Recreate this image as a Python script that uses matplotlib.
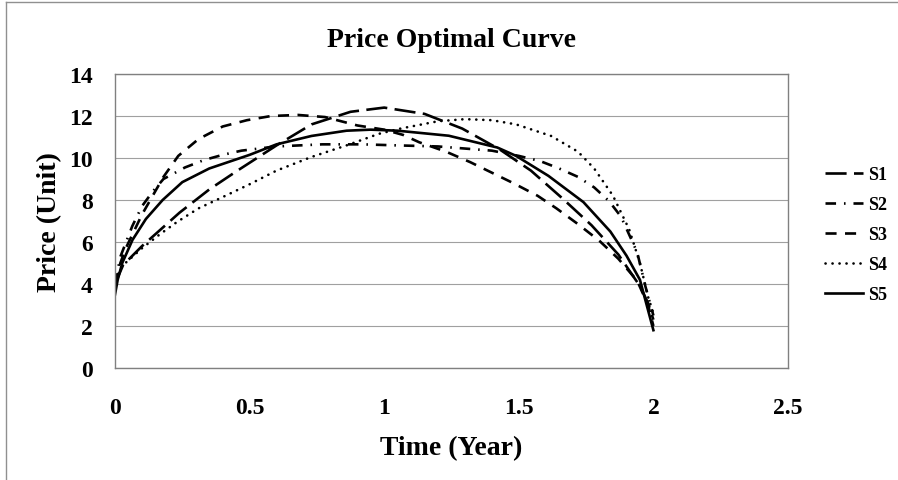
import matplotlib
matplotlib.use("Agg")
import matplotlib.pyplot as plt
from matplotlib.lines import Line2D

# --- Data ---
s1_t = [0, 0.03, 0.1, 0.17, 0.24, 0.35, 0.455, 0.6, 0.73, 0.875, 1.0, 1.15,
        1.29, 1.43, 1.545, 1.66, 1.77, 1.87, 1.95, 1.98, 2.0]
s1_p = [4.0, 4.9, 5.8, 6.6, 7.4, 8.5, 9.4, 10.6, 11.6, 12.2, 12.4, 12.1,
        11.4, 10.4, 9.4, 8.1, 6.8, 5.4, 3.9, 3.1, 2.3]

s2_t = [0, 0.02, 0.064, 0.1, 0.14, 0.18, 0.26, 0.33, 0.4, 0.47, 0.6, 0.77,
        0.92, 1.05, 1.2, 1.4, 1.5, 1.58, 1.65, 1.72, 1.78, 1.835, 1.88,
        1.94, 1.97, 2.0]
s2_p = [4.0, 5.3, 6.75, 7.7, 8.4, 9.0, 9.55, 9.9, 10.15, 10.35, 10.55, 10.65,
        10.65, 10.6, 10.55, 10.35, 10.1, 9.85, 9.5, 9.1, 8.6, 7.95, 7.2,
        5.5, 3.9, 2.5]

s3_t = [0, 0.02, 0.04, 0.1, 0.18, 0.235, 0.31, 0.4, 0.49, 0.58, 0.68, 0.78,
        0.9, 1.0, 1.07, 1.13, 1.23, 1.32, 1.4, 1.48, 1.57, 1.64, 1.72, 1.8,
        1.87, 1.94, 1.98, 2.0]
s3_p = [4.0, 5.0, 5.7, 7.3, 9.1, 10.1, 10.9, 11.5, 11.8, 12.0, 12.05, 11.95,
        11.55, 11.35, 11.1, 10.75, 10.3, 9.8, 9.3, 8.8, 8.2, 7.6, 6.85, 6.05,
        5.2, 4.15, 3.0, 2.0]

s4_t = [0, 0.03, 0.1, 0.165, 0.23, 0.31, 0.41, 0.5, 0.6, 0.73, 0.86, 0.98,
        1.06, 1.2, 1.3, 1.4, 1.49, 1.62, 1.72, 1.78, 1.85, 1.91, 1.95, 1.98,
        2.0]
s4_p = [4.2, 4.9, 5.7, 6.35, 6.95, 7.6, 8.2, 8.75, 9.4, 10.05, 10.6, 11.15,
        11.4, 11.75, 11.85, 11.8, 11.6, 11.05, 10.3, 9.5, 8.2, 6.6, 5.0, 3.4,
        2.6]

s5_t = [0, 0.01, 0.027, 0.065, 0.115, 0.177, 0.25, 0.35, 0.5, 0.6, 0.73,
        0.86, 0.95, 1.05, 1.24, 1.42, 1.49, 1.61, 1.74, 1.84, 1.9, 1.95, 2.0]
s5_p = [3.5, 4.2, 5.0, 6.1, 7.1, 8.0, 8.85, 9.5, 10.15, 10.65, 11.05,
        11.3, 11.35, 11.3, 11.06, 10.5, 10.1, 9.15, 7.9, 6.5, 5.35, 4.2, 1.8]

labels = ["S1", "S2", "S3", "S4", "S5"]
x_ticks = [0, 0.5, 1, 1.5, 2, 2.5]
y_ticks = [0, 2, 4, 6, 8, 10, 12, 14]

# --- Styling ---
plt.rcParams["font.family"] = ["Liberation Serif", "DejaVu Serif"]
plt.rcParams["font.weight"] = "bold"

LW = 1.9
styles = [
    dict(dashes=(8.0, 2.8)),                      # S1 long dash
    dict(dashes=(4.0, 3.0, 0.6, 3.0)),            # S2 dash-dot
    dict(dashes=(4.2, 3.2)),                      # S3 dash
    dict(dashes=(0.05, 2.6), dash_capstyle="round"),  # S4 dotted
    dict(linestyle="-"),                          # S5 solid
]

fig = plt.figure(figsize=(8.98, 4.81), dpi=100)
ax = fig.add_axes([115 / 898, 1 - 369 / 481, (788 - 115) / 898, (369 - 75) / 481])

series = [(s1_t, s1_p), (s2_t, s2_p), (s3_t, s3_p), (s4_t, s4_p), (s5_t, s5_p)]
for (t, p), lab, st in zip(series, labels, styles):
    ax.plot(t, p, color="black", lw=LW, label=lab, **st)

ax.set_xlim(0, 2.5)
ax.set_ylim(0, 14)
ax.set_xticks(x_ticks)
ax.set_xticklabels([f"{v:g}" for v in x_ticks])
ax.set_yticks(y_ticks)
ax.tick_params(axis="both", length=0, labelsize=17)
ax.tick_params(axis="y", pad=16)
ax.tick_params(axis="x", pad=21)
ax.grid(axis="y", color="#a0a0a0", lw=0.8)
ax.set_axisbelow(True)
for sp in ax.spines.values():
    sp.set_color("#808080")
    sp.set_linewidth(1.0)

ax.set_title("Price Optimal Curve", fontsize=20, fontweight="bold", pad=20)
ax.set_xlabel("Time (Year)", fontsize=20, fontweight="bold", labelpad=12)
ax.set_ylabel("Price (Unit)", fontsize=20, fontweight="bold", labelpad=5)

ax.legend(loc="upper left", bbox_to_anchor=(818 / 898, 1 - 160 / 481),
          bbox_transform=fig.transFigure, frameon=False, fontsize=13,
          handlelength=2.1, labelspacing=0.72, handletextpad=0.3,
          borderaxespad=0)

# chart-area border (only left and top visible in the reference)
fig.add_artist(Line2D([6 / 898, 6 / 898], [0, 1 - 2.5 / 481],
                      transform=fig.transFigure, color="#909090", lw=1))
fig.add_artist(Line2D([6 / 898, 1], [1 - 2.5 / 481, 1 - 2.5 / 481],
                      transform=fig.transFigure, color="#909090", lw=1))

fig.savefig("out.png", dpi=100)
